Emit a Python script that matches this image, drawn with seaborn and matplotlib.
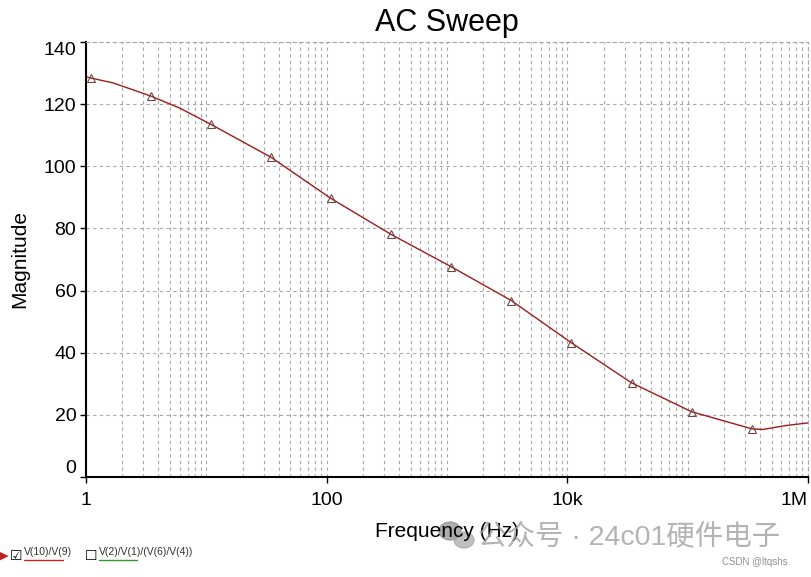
import numpy as np
import pandas as pd
import matplotlib
matplotlib.use("Agg")
import matplotlib.pyplot as plt
from matplotlib.patches import Ellipse
import seaborn as sns
from matplotlib.ticker import FixedLocator, NullFormatter

# ---- data ----
freq_hz = [1, 1.1, 1.69, 3.46, 6.03, 10.9, 34.5, 108, 342, 1080,
           3420, 10800, 34200, 108000, 342000, 420000, 664000, 1000000]
magnitude = [128.8, 128.4, 126.8, 122.6, 118.7, 113.5, 102.9, 89.7,
             78.1, 67.7, 56.8, 43.2, 30.3, 21.0, 15.5, 15.3, 16.6, 17.4]
marker_idx = [1, 3, 5, 6, 7, 8, 9, 10, 11, 12, 13, 14]

x_ticks = [1, 100, 10000, 1000000]
x_ticklabels = ["1", "100", "10k", "1M"]
y_ticks = [0, 20, 40, 60, 80, 100, 120, 140]
y_ticklabels = ["0", "20", "40", "60", "80", "100", "120", "140"]

title = "AC Sweep"
xlabel = "Frequency (Hz)"
ylabel = "Magnitude"
legend_items = ["V(10)/V(9)", "V(2)/V(1)/(V(6)/V(4))"]
legend_colors = ["#d42020", "#2a9a2a"]

df = pd.DataFrame({"freq": freq_hz, "mag": magnitude})

sns.set_style("white")
plt.rcParams["font.family"] = ["Liberation Sans", "Noto Sans CJK SC", "DejaVu Sans"]
plt.rcParams["text.color"] = "black"
plt.rcParams["axes.labelcolor"] = "black"

fig = plt.figure(figsize=(8.11, 5.77), dpi=100)
ax = fig.add_axes([86 / 811, 100 / 577, 722 / 811, 435 / 577])

sns.lineplot(data=df, x="freq", y="mag", ax=ax, color="#9b1c1c", linewidth=1.0,
             marker="^", markevery=marker_idx, markersize=6, markerfacecolor="none",
             markeredgecolor="#6e4646", markeredgewidth=0.8)

ax.set_xscale("log")
ax.set_xlim(1, 1e6)
ax.set_ylim(0, 140)

ax.xaxis.set_major_locator(FixedLocator(x_ticks))
ax.set_xticklabels(x_ticklabels)
minor = [m * 10 ** d for d in range(0, 6) for m in range(2, 10)] + [10, 1000, 100000]
ax.xaxis.set_minor_locator(FixedLocator(minor))
ax.xaxis.set_minor_formatter(NullFormatter())
ax.set_yticks(y_ticks)
ax.set_yticklabels(y_ticklabels)

grid_kw = dict(color="#a8a8a8", linestyle=(0, (3, 3)), linewidth=0.8)
ax.grid(True, which="major", axis="both", **grid_kw)
ax.grid(True, which="minor", axis="x", **grid_kw)

for s in ["top", "right"]:
    ax.spines[s].set_visible(True)
    ax.spines[s].set_color("#a8a8a8")
    ax.spines[s].set_linestyle((0, (3, 3)))
    ax.spines[s].set_linewidth(0.8)
for s in ["left", "bottom"]:
    ax.spines[s].set_color("black")
    ax.spines[s].set_linewidth(1.5)

ax.tick_params(axis="both", which="major", direction="out", length=4, width=1,
               color="black", labelsize=14, labelcolor="black", left=True, bottom=True)
ax.tick_params(axis="x", which="major", pad=7)
ax.tick_params(axis="y", which="major", pad=3)
ax.tick_params(axis="x", which="minor", length=0)

ylabs = ax.get_yticklabels()
ylabs[0].set_verticalalignment("bottom")
ylabs[-1].set_verticalalignment("top")
xlabs = ax.get_xticklabels()
xlabs[-1].set_horizontalalignment("right")

ax.set_xlabel(xlabel, fontsize=15, labelpad=9, color="black")
ax.set_ylabel(ylabel, fontsize=15, labelpad=10, color="black")
ax.set_title(title, fontsize=22, pad=8, color="black")

# legend area at the bottom
def fy(py):
    return 1 - py / 577

fig.text(0.0, fy(556), "\u25B6", fontsize=8, color="#c02020", va="center", ha="left",
         family=["DejaVu Sans"])
fig.text(16 / 811, fy(556), "\u2611", fontsize=10, color="black", va="center", ha="center",
         family=["DejaVu Sans"])
fig.text(24 / 811, fy(557), legend_items[0], fontsize=7.5, color="#333333", va="bottom", ha="left")
fig.add_artist(plt.Line2D([24 / 811, 63 / 811], [fy(560), fy(560)], color=legend_colors[0],
                          linewidth=1, transform=fig.transFigure))
fig.text(91 / 811, fy(556), "\u2610", fontsize=10, color="black", va="center", ha="center",
         family=["DejaVu Sans"])
fig.text(99 / 811, fy(557), legend_items[1], fontsize=7.5, color="#333333", va="bottom", ha="left")
fig.add_artist(plt.Line2D([99 / 811, 137 / 811], [fy(560), fy(560)], color=legend_colors[1],
                          linewidth=1, transform=fig.transFigure))

# watermark (icon + text)
fig.add_artist(Ellipse((450 / 811, fy(531)), 22 / 811, 18 / 577, transform=fig.transFigure,
                       color="#8c8c8c", alpha=0.7, zorder=0))
fig.add_artist(Ellipse((464 / 811, fy(540)), 20 / 811, 16 / 577, transform=fig.transFigure,
                       color="#a5a5a5", alpha=0.7, zorder=0))
fig.text(478 / 811, fy(537), "公众号 · 24c01硬件电子", fontsize=20.5, color="#a0a0a0",
         va="center", ha="left", alpha=0.8)
fig.text(722 / 811, fy(562), "CSDN @ltqshs", fontsize=7, color="#909090",
         va="center", ha="left")

fig.savefig("out.png", dpi=100)
